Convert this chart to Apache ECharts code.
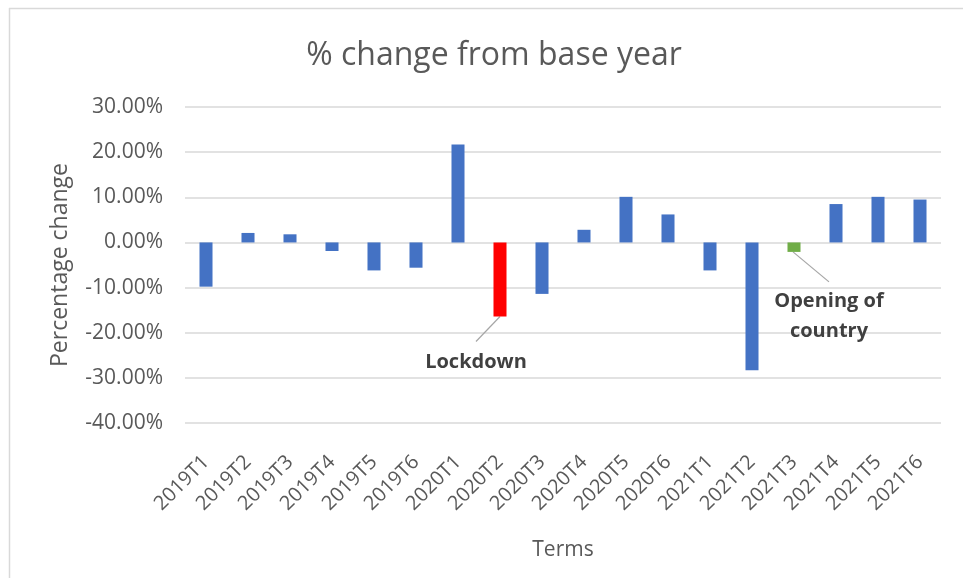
<!DOCTYPE html>
<html>
<head>
<meta charset="utf-8">
<script src="https://cdn.jsdelivr.net/npm/echarts@6/dist/echarts.min.js"></script>
<style>
  html, body { margin: 0; padding: 0; background: #fff; }
  #chart { width: 963px; height: 578px; }
</style>
</head>
<body>
<div id="chart"></div>
<script>
// Terms and % change versus the base year
const terms = ['2019T1','2019T2','2019T3','2019T4','2019T5','2019T6',
               '2020T1','2020T2','2020T3','2020T4','2020T5','2020T6',
               '2021T1','2021T2','2021T3','2021T4','2021T5','2021T6'];
const pctChange = [-9.8, 2.1, 1.8, -1.9, -6.2, -5.6,
                   21.7, -16.4, -11.4, 2.8, 10.1, 6.2,
                   -6.2, -28.3, -2.1, 8.5, 10.1, 9.5];
const yTicks = [-40, -30, -20, -10, 0, 10, 20, 30];

// Annotated terms
const lockdownTerm = '2020T2';
const openingTerm = '2021T3';

const FONT = '"Open Sans", sans-serif';
const TEXT = '#595959';

const barData = pctChange.map((v, i) => {
  let color = '#4472C4';
  if (terms[i] === lockdownTerm) color = '#FF0000';
  if (terms[i] === openingTerm) color = '#70AD47';
  return { value: v, itemStyle: { color } };
});

const chart = echarts.init(document.getElementById('chart'), null, { renderer: 'canvas' });

const frame = [
  { type: 'line', shape: { x1: 9, y1: 8.5, x2: 963, y2: 8.5 }, style: { stroke: '#d9d9d9', lineWidth: 1.5 } },
  { type: 'line', shape: { x1: 9.5, y1: 8, x2: 9.5, y2: 578 }, style: { stroke: '#d9d9d9', lineWidth: 1.5 } }
];

chart.setOption({
  animation: false,
  backgroundColor: '#fff',
  title: {
    text: '% change from base year',
    left: 489, top: 35, textAlign: 'center',
    textStyle: { fontFamily: FONT, fontSize: 32, fontWeight: 'normal', color: TEXT }
  },
  grid: { left: 185, right: 22, top: 107, bottom: 155, containLabel: false },
  xAxis: {
    type: 'category',
    data: terms,
    name: 'Terms',
    nameLocation: 'middle',
    nameGap: 117,
    nameTextStyle: { fontFamily: FONT, fontSize: 21, color: TEXT },
    axisLine: { show: false, onZero: false },
    axisTick: { show: false },
    axisLabel: { rotate: 45, margin: 36, interval: 0, fontFamily: FONT, fontSize: 20, color: TEXT }
  },
  yAxis: {
    type: 'value',
    min: yTicks[0], max: yTicks[yTicks.length - 1], interval: 10,
    name: 'Percentage change',
    nameLocation: 'middle',
    nameGap: 113,
    nameRotate: 90,
    nameTextStyle: { fontFamily: FONT, fontSize: 23, color: TEXT },
    axisLine: { show: false },
    axisTick: { show: false },
    splitLine: { lineStyle: { color: '#d9d9d9', width: 1.5 } },
    axisLabel: {
      margin: 22, fontFamily: FONT, fontSize: 21, color: TEXT,
      formatter: v => v.toFixed(2) + '%'
    }
  },
  series: [{
    type: 'bar',
    data: barData,
    barWidth: '31%'
  }],
  graphic: frame
});

// Callouts tied to the annotated bars
function callouts() {
  const iL = terms.indexOf(lockdownTerm);
  const iO = terms.indexOf(openingTerm);
  const pL = chart.convertToPixel({ seriesIndex: 0 }, [iL, pctChange[iL]]);
  const pO = chart.convertToPixel({ seriesIndex: 0 }, [iO, pctChange[iO]]);
  const lbl = { fontFamily: FONT, fontSize: 20, fontWeight: 'bold', fill: '#404040', textAlign: 'center', textVerticalAlign: 'middle' };
  return frame.concat([
    { type: 'line', shape: { x1: pL[0], y1: pL[1], x2: pL[0] - 24, y2: pL[1] + 25 }, style: { stroke: '#a6a6a6', lineWidth: 1.2 } },
    { type: 'text', x: pL[0] - 24, y: pL[1] + 46, style: Object.assign({ text: 'Lockdown' }, lbl) },
    { type: 'line', shape: { x1: pO[0] - 1, y1: pO[1], x2: pO[0] + 35, y2: pO[1] + 30 }, style: { stroke: '#a6a6a6', lineWidth: 1.2 } },
    { type: 'text', x: pO[0] + 35, y: pO[1] + 49, style: Object.assign({ text: 'Opening of' }, lbl) },
    { type: 'text', x: pO[0] + 35, y: pO[1] + 79, style: Object.assign({ text: 'country' }, lbl) }
  ]);
}
chart.setOption({ graphic: callouts() }, { replaceMerge: ['graphic'] });
</script>
</body>
</html>
